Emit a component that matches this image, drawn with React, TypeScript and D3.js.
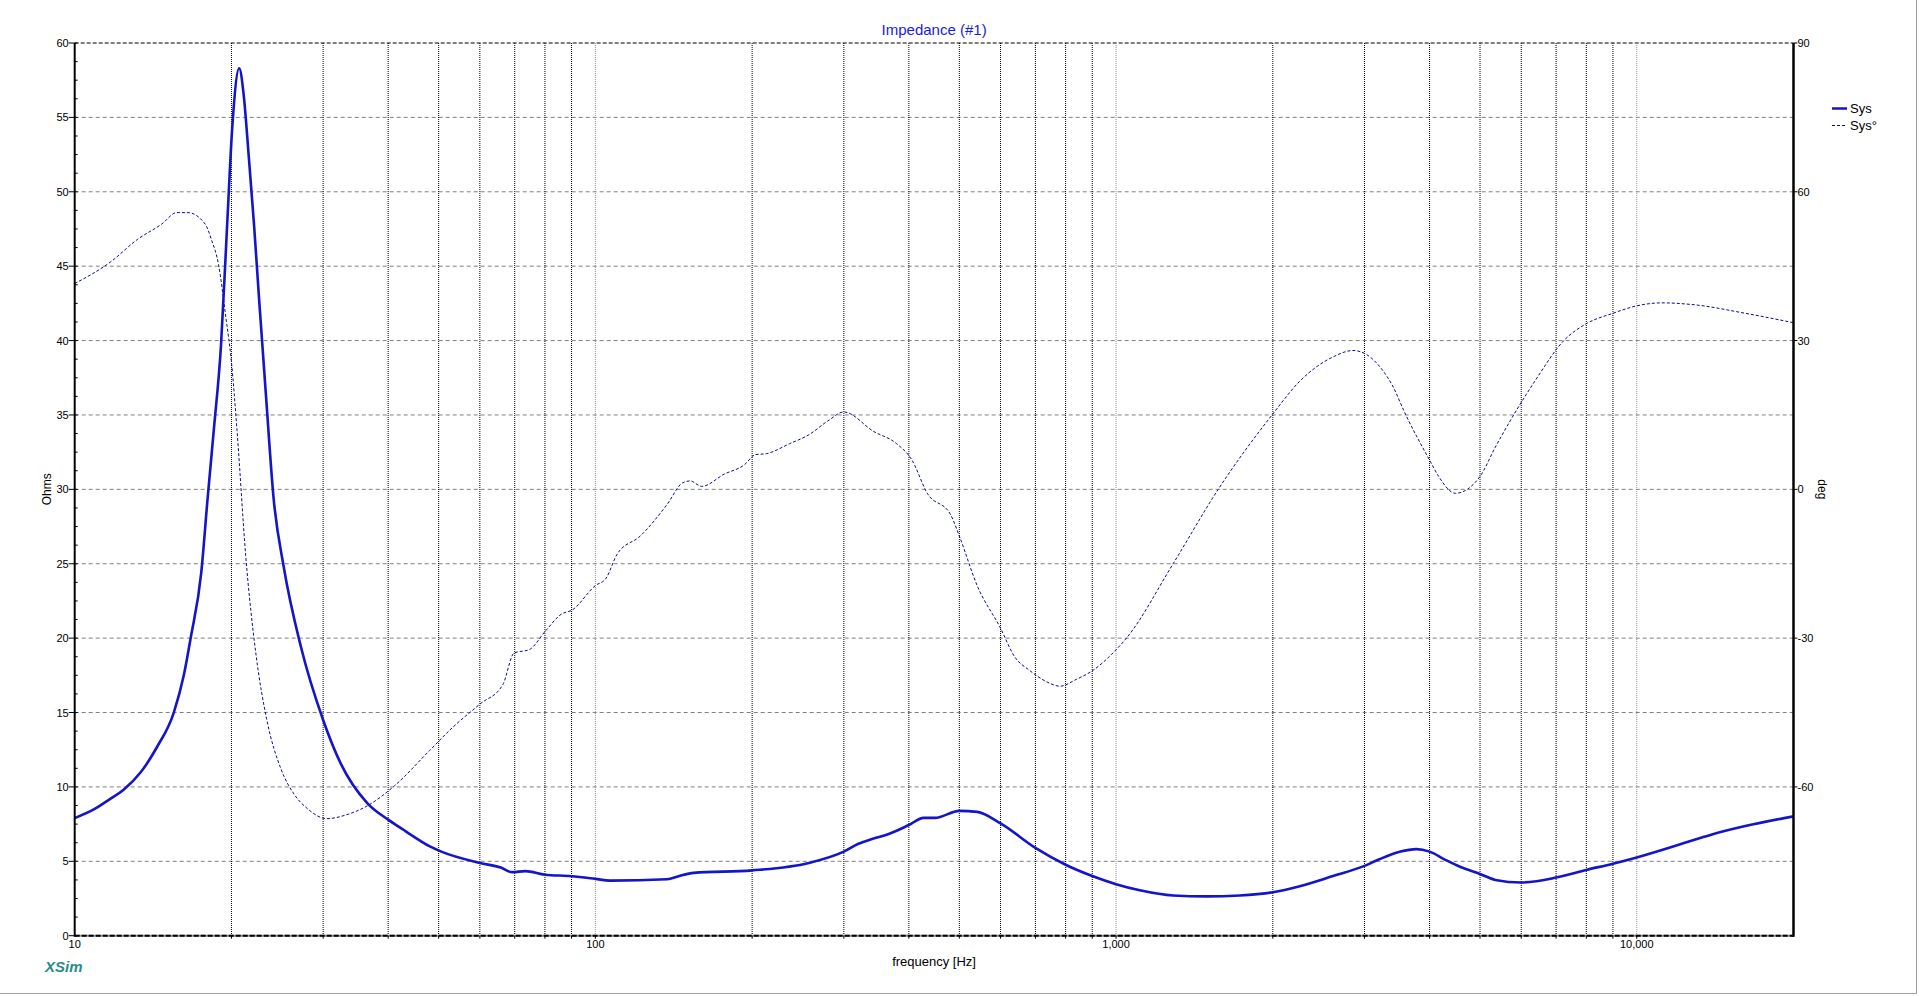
import React from "react";
import * as d3 from "d3";

// Impedance magnitude (solid) samples: frequency [Hz] and Ohms
const freqMag = [10, 10.9, 11.7, 12.4, 13.4, 14.4, 15.5, 16.2, 16.7, 17.5, 18.0, 18.5, 19.1, 19.6, 20.07, 20.7, 21.1, 21.6, 22.1, 22.6, 23.3, 24.1, 25.2, 27.2, 30, 32.4, 36.5, 40, 43.3, 48.1, 50.6, 60, 65.8, 69.2, 73.4, 80, 90, 100, 106.6, 137.4, 144.5, 154.6, 200, 257, 300, 320, 342, 366, 400, 427, 449, 500, 541, 600, 700, 800, 900, 1000, 1111, 1287, 1491, 1728, 2000, 2253, 2610, 3000, 3195, 3505, 3776, 4000, 4289, 4600, 5000, 5350, 6000, 7000, 8000, 9000, 10000, 12037, 13948, 16160, 20000];
const ohms = [7.9, 8.5, 9.2, 9.8, 11.0, 12.7, 15.0, 17.5, 20.0, 24.4, 29.4, 34.0, 39.7, 47.4, 54.3, 58.3, 56.6, 52.3, 47.8, 42.8, 36.3, 29.4, 24.8, 19.4, 14.5, 11.6, 8.9, 7.8, 7.0, 6.0, 5.65, 4.89, 4.58, 4.27, 4.34, 4.1, 4.0, 3.82, 3.7, 3.79, 4.0, 4.22, 4.39, 4.89, 5.65, 6.18, 6.53, 6.84, 7.44, 7.92, 7.92, 8.39, 8.32, 7.55, 5.9, 4.77, 4.01, 3.46, 3.05, 2.7, 2.64, 2.7, 2.92, 3.33, 4.01, 4.69, 5.12, 5.64, 5.82, 5.65, 5.1, 4.6, 4.15, 3.75, 3.58, 3.91, 4.42, 4.84, 5.26, 6.11, 6.81, 7.37, 8.02];

// Phase (dashed) samples: frequency [Hz] and degrees
const freqPhase = [10, 11.7, 13.2, 14.7, 15.7, 16.5, 17.8, 18.3, 18.9, 19.5, 20.0, 20.5, 21.3, 22.3, 23.4, 24.9, 26.4, 28.0, 30.5, 33.3, 36.5, 41.1, 48.1, 53.2, 60, 66.4, 69.8, 74.7, 80, 86.2, 90, 100, 104.7, 110.2, 122, 137.4, 147, 152, 160, 177, 193, 203, 213, 236, 257, 279.6, 300, 342, 379, 405, 434, 481, 500, 541, 600, 638, 682, 700, 746, 780, 839, 900, 986, 1047, 1287, 1571, 2000, 2253, 2610, 2851, 3025, 3256, 3388, 3594, 4000, 4165, 4483, 5000, 5350, 5802, 6389, 7244, 8000, 9000, 10000, 11170, 12940, 16160, 20000];
const phaseDeg = [41.5, 45.8, 50.4, 53.5, 55.8, 55.8, 53.5, 50.4, 45.2, 34.9, 25.7, 11.9, -13.3, -33.4, -46.6, -56.4, -61.5, -64.4, -66.4, -65.6, -63.8, -59.8, -52.6, -48.0, -43.3, -39.4, -33.0, -32.3, -28.7, -25.1, -24.4, -19.4, -18.0, -13.0, -9.4, -3.0, 1.3, 1.7, 0.6, 3.1, 4.9, 7.0, 7.2, 9.2, 11.0, 13.8, 15.6, 11.7, 9.2, 6.0, -0.8, -5.1, -9.4, -19.4, -28.0, -33.7, -36.5, -37.4, -39.1, -39.7, -38.3, -36.6, -33.0, -30.0, -15.0, 0.0, 15.2, 21.8, 26.7, 28.0, 27.2, 23.9, 21.1, 15.2, 5.9, 2.6, -0.8, 2.6, 8.5, 15.0, 22.0, 30.0, 33.4, 35.5, 37.0, 37.6, 37.2, 35.5, 33.6];

const ohmTicks = [0, 5, 10, 15, 20, 25, 30, 35, 40, 45, 50, 55, 60];
const degTicks = [90, 60, 30, 0, -30, -60];
const freqLabels = [10, 100, 1000, 10000];
const freqGridMinor = [20, 30, 40, 50, 60, 70, 80, 90, 200, 300, 400, 500, 600, 700, 800, 900, 2000, 3000, 4000, 5000, 6000, 7000, 8000, 9000];
const freqGridDecade = [100, 1000, 10000];
const legendItems = ["Sys", "Sys°"];

const W = 1919;
const H = 996;
const L = 74.7;
const R = 1793.5;
const T = 43;
const B = 935.7;
const FONT = "'Liberation Sans', Arial, sans-serif";
const MAG_COLOR = "#1414c8";
const PH_COLOR = "#0a0a9a";

export default function App() {
  const x = d3.scaleLog().domain([10, 20000]).range([L, R]);
  const yO = d3.scaleLinear().domain([0, 60]).range([B, T]);
  const yD = d3.scaleLinear().domain([-90, 90]).range([B, T]);

  const magLine = d3
    .line<number>()
    .x((_, i) => x(freqMag[i]))
    .y((d) => yO(d))
    .curve(d3.curveMonotoneX);
  const phLine = d3
    .line<number>()
    .x((_, i) => x(freqPhase[i]))
    .y((d) => yD(d))
    .curve(d3.curveMonotoneX);

  const minorOhm = d3.range(0, 60.01, 1.25);
  const fmt = d3.format(",");

  return (
    <svg
      width={W}
      height={H}
      style={{ position: "absolute", left: 0, top: 0, background: "#fff" }}
    >
      <rect x={0} y={0} width={W} height={H} fill="#fff" />
      {/* frame */}
      <line x1={W - 2.5} y1={0} x2={W - 2.5} y2={H - 2} stroke="#a0a0a0" strokeWidth={1} />
      <line x1={0} y1={H - 2.5} x2={W - 2} y2={H - 2.5} stroke="#a0a0a0" strokeWidth={1} />

      <text x={(L + R) / 2} y={35} textAnchor="middle" fontFamily={FONT} fontSize={15} fill="#1a1ae6">
        Impedance (#1)
      </text>

      {/* horizontal grid */}
      {ohmTicks.filter((t) => t > 0 && t < 60).map((t) => (
        <line key={"h" + t} x1={L} x2={R} y1={yO(t)} y2={yO(t)} stroke="#808080" strokeWidth={1} strokeDasharray="4,3" />
      ))}
      <line x1={L} x2={R} y1={T} y2={T} stroke="#000" strokeWidth={1} strokeDasharray="4,2" />

      {/* vertical grid */}
      {freqGridMinor.map((f) => (
        <line key={"v" + f} x1={x(f)} x2={x(f)} y1={T} y2={B} stroke="#000" strokeWidth={1} strokeDasharray="1,1" />
      ))}
      {freqGridDecade.map((f) => (
        <line key={"d" + f} x1={x(f)} x2={x(f)} y1={T} y2={B} stroke="#909090" strokeWidth={1} strokeDasharray="1,1" />
      ))}

      {/* curves */}
      <path d={phLine(phaseDeg) || ""} fill="none" stroke={PH_COLOR} strokeWidth={1} strokeDasharray="3,2" />
      <path d={magLine(ohms) || ""} fill="none" stroke={MAG_COLOR} strokeWidth={2.6} strokeLinejoin="round" />

      {/* axes */}
      <line x1={L} x2={R} y1={B} y2={B} stroke="#909090" strokeWidth={2} />
      <line x1={L} x2={R} y1={B} y2={B} stroke="#000" strokeWidth={2} strokeDasharray="5,2" />
      <line x1={L} x2={L} y1={T} y2={B + 1} stroke="#000" strokeWidth={2} />
      <line x1={R} x2={R} y1={T} y2={B + 1} stroke="#000" strokeWidth={2.5} />

      {/* left minor ticks */}
      {minorOhm.map((t) => (
        <line key={"m" + t} x1={L} x2={L + 3} y1={yO(t)} y2={yO(t)} stroke="#000" strokeWidth={1} />
      ))}
      {/* left labels */}
      {ohmTicks.map((t) => (
        <g key={"lo" + t}>
          <line x1={L - 6} x2={L} y1={yO(t)} y2={yO(t)} stroke="#000" strokeWidth={1} />
          <text x={L - 6} y={yO(t) + 4} textAnchor="end" fontFamily={FONT} fontSize={11} fill="#000">
            {t}
          </text>
        </g>
      ))}
      {/* right labels */}
      {degTicks.map((t) => (
        <g key={"rd" + t}>
          <line x1={R} x2={R + 4} y1={yD(t)} y2={yD(t)} stroke="#000" strokeWidth={1} />
          <text x={R + 4} y={yD(t) + 4} textAnchor="start" fontFamily={FONT} fontSize={11} fill="#000">
            {t}
          </text>
        </g>
      ))}
      {/* x labels */}
      {freqLabels.map((f) => (
        <text key={"xl" + f} x={x(f)} y={948} textAnchor="middle" fontFamily={FONT} fontSize={11} fill="#000">
          {fmt(f)}
        </text>
      ))}
      {[...freqGridMinor, ...freqGridDecade].map((f) => (
        <line key={"xt" + f} x1={x(f)} x2={x(f)} y1={B} y2={B + 3} stroke="#000" strokeWidth={1} />
      ))}

      <text x={(L + R) / 2} y={966} textAnchor="middle" fontFamily={FONT} fontSize={13} fill="#000">
        frequency [Hz]
      </text>
      <text transform={`translate(51, ${(T + B) / 2}) rotate(-90)`} textAnchor="middle" fontFamily={FONT} fontSize={12} fill="#000">
        Ohms
      </text>
      <text transform={`translate(1818, ${(T + B) / 2}) rotate(90)`} textAnchor="middle" fontFamily={FONT} fontSize={12} fill="#000">
        deg
      </text>

      {/* legend */}
      {legendItems.map((name, i) => (
        <g key={name}>
          <line
            x1={1832}
            x2={1847}
            y1={108.5 + i * 17}
            y2={108.5 + i * 17}
            stroke={i === 0 ? MAG_COLOR : PH_COLOR}
            strokeWidth={i === 0 ? 2.5 : 1}
            strokeDasharray={i === 0 ? undefined : "3,2"}
          />
          <text x={1850} y={113 + i * 17} fontFamily={FONT} fontSize={13} fill="#000">
            {name}
          </text>
        </g>
      ))}

      <text x={45} y={972} fontFamily={FONT} fontSize={15} fontWeight="bold" fontStyle="italic" fill="#2a8a8a">
        XSim
      </text>
    </svg>
  );
}
